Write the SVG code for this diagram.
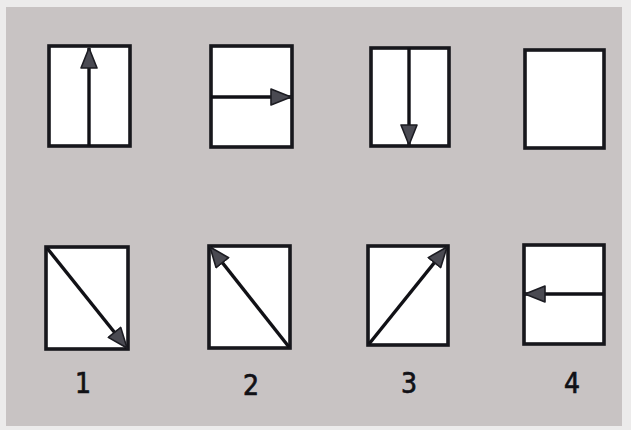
<svg xmlns="http://www.w3.org/2000/svg" width="631" height="430" viewBox="0 0 631 430">
<style>
.box{fill:#ffffff;stroke:#17171c;stroke-width:3.6}
.arr{stroke:#111116;stroke-width:3.4;fill:none;marker-end:url(#ah)}
.lbl{font-family:"Liberation Sans Narrow","DejaVu Sans Condensed","Liberation Sans",sans-serif;font-size:28px;fill:#111116;stroke:#111116;stroke-width:0.7;text-anchor:middle}
</style>
<defs>
<marker id="ah" viewBox="0 0 22 18" refX="21" refY="9" markerWidth="22" markerHeight="18" orient="auto" markerUnits="userSpaceOnUse">
<path d="M1,1 L21,9 L1,17 Z" fill="#4a4a52" stroke="#1c1c22" stroke-width="1.6" stroke-linejoin="round"/>
</marker>
</defs>
<rect x="0" y="0" width="631" height="430" fill="#ecebeb"/>
<rect x="6" y="7" width="616" height="419" fill="#c8c3c3"/>
<g id="top1"><rect class="box" x="49" y="46" width="81" height="100"/></g>
<g id="top2"><rect class="box" x="211" y="46" width="81" height="101"/></g>
<g id="top3"><rect class="box" x="371" y="48" width="78" height="98"/></g>
<g id="top4"><rect class="box" x="525" y="50" width="79" height="98"/></g>
<g id="opt1"><rect class="box" x="46" y="247" width="82" height="102"/><text class="lbl" x="83" y="393">1</text></g>
<g id="opt2"><rect class="box" x="209" y="246" width="81" height="102"/><text class="lbl" x="251" y="395">2</text></g>
<g id="opt3"><rect class="box" x="368" y="246" width="80" height="99"/><text class="lbl" x="409" y="393">3</text></g>
<g id="opt4"><rect class="box" x="524" y="245" width="80" height="99"/><text class="lbl" x="572" y="393">4</text></g>
<g id="connectors">
<line class="arr" x1="89" y1="146" x2="89" y2="48"/>
<line class="arr" x1="211" y1="97" x2="291" y2="97"/>
<line class="arr" x1="409" y1="48" x2="409" y2="145"/>
<line class="arr" x1="47" y1="248" x2="127" y2="348"/>
<line class="arr" x1="289" y1="347" x2="210" y2="247"/>
<line class="arr" x1="369" y1="344" x2="447" y2="247"/>
<line class="arr" x1="603" y1="294" x2="525" y2="294"/>
</g>
</svg>
